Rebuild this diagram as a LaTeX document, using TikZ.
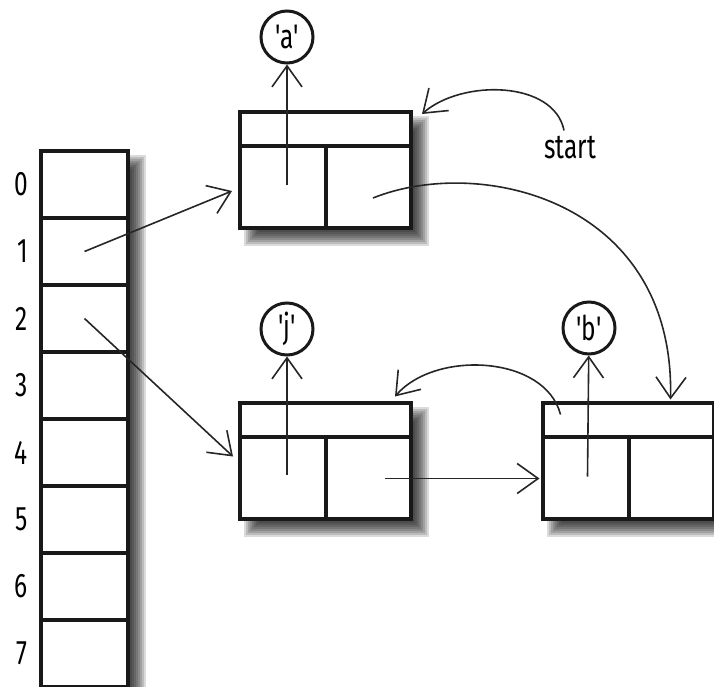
\documentclass[tikz,border=0pt]{standalone}
\usepackage{fontspec}
\setmainfont{Fira Sans}[FakeStretch=0.72,Ligatures=TeXOff]
\usetikzlibrary{positioning,calc,arrows.meta}
\pgfdeclarelayer{bg}
\pgfsetlayers{bg,main}
\begin{document}
\begin{tikzpicture}[x=1pt,y=-1pt,font=\fontsize{34}{38}\selectfont,
  box/.style={draw=black!90, line width=4pt, fill=white, outer sep=0pt, inner sep=0pt},
  listbox/.style={box, minimum width=171pt, minimum height=116pt},
  cellbox/.style={box, minimum width=87pt, minimum height=67pt},
  valstyle/.style={circle, draw=black!90, line width=3pt, minimum size=52pt, inner sep=0pt},
  divider/.style={line width=4pt, draw=black!90},
  ptr/.style={-{Straight Barb[length=21pt,width=30pt]}, line width=1.6pt, black!85}]
  \useasboundingbox (0,0) rectangle (714,687);

  \node [box, minimum width=87pt, minimum height=536pt] (arr) at (84.5,419) {};
  \foreach \i in {0,...,7} {
    \node [cellbox] (cell\i) at (84.5,184.5+67*\i) {};
    \node [inner sep=0pt, left=13pt of cell\i] {\i};
  }

  \node [listbox] (A) at (325.5,170) {};
  \node [listbox] (J) at (325.5,460.5) {};
  \node [listbox] (B) at (628,460.5) {};
  \foreach \n in {A,J,B} {
    \draw [divider] ([yshift=-34pt]\n.north west) -- ([yshift=-34pt]\n.north east);
    \draw [divider] ([xshift=86pt,yshift=-34pt]\n.north west) -- ([xshift=86pt]\n.south west);
  }

  \begin{pgfonlayer}{bg}
    \foreach \n in {arr,A,J,B}
      \foreach \e in {7,5,...,-7}
        \fill [black, opacity=0.14] ($(\n.north west)+(11-\e,11-\e)$) rectangle ($(\n.south east)+(11+\e,11+\e)$);
  \end{pgfonlayer}

  \node [valstyle] (a) at (287,37) {'a'};
  \node [valstyle] (j) at (287,329) {'j'};
  \node [valstyle] (b) at (589,328) {'b'};
  \node [inner sep=0pt] (start) at (570,148) {start};

  \coordinate (A-val) at ($(A.north west)+(47,73)$);
  \coordinate (A-next) at ($(A.north west)+(133,86)$);
  \coordinate (A-in) at ($(A.north west)+(-8,79)$);
  \coordinate (A-head) at ($(A.north east)+(11,2)$);
  \coordinate (J-val) at ($(J.north west)+(47,72)$);
  \coordinate (J-next) at ($(J.north west)+(145,76)$);
  \coordinate (J-in) at ($(J.north west)+(-7,54)$);
  \coordinate (J-prev) at ($(J.north east)+(-16,-6)$);
  \coordinate (B-val) at ($(B.north west)+(45,74)$);
  \coordinate (B-in) at ($(B.north west)+(-3,76)$);
  \coordinate (B-head) at ($(B.north west)+(128,-3)$);
  \coordinate (B-prev) at ($(B.north west)+(18,12)$);

  \draw [ptr] (A-val) -- (a);
  \draw [ptr] (J-val) -- (j);
  \draw [ptr] (B-val) -- (b);
  \draw [ptr] (cell1.center) -- (A-in);
  \draw [ptr] (cell2.center) -- (J-in);
  \draw [ptr] (J-next) -- (B-in);
  \draw [ptr] ([xshift=-6pt,yshift=6pt]start.north) .. controls +(-10,-50) and +(40,-35) .. (A-head);
  \draw [ptr] (A-next) .. controls (480,155) and (675,200) .. (B-head);
  \draw [ptr] (B-prev) .. controls (545,355) and (435,350) .. (J-prev);
\end{tikzpicture}
\end{document}
